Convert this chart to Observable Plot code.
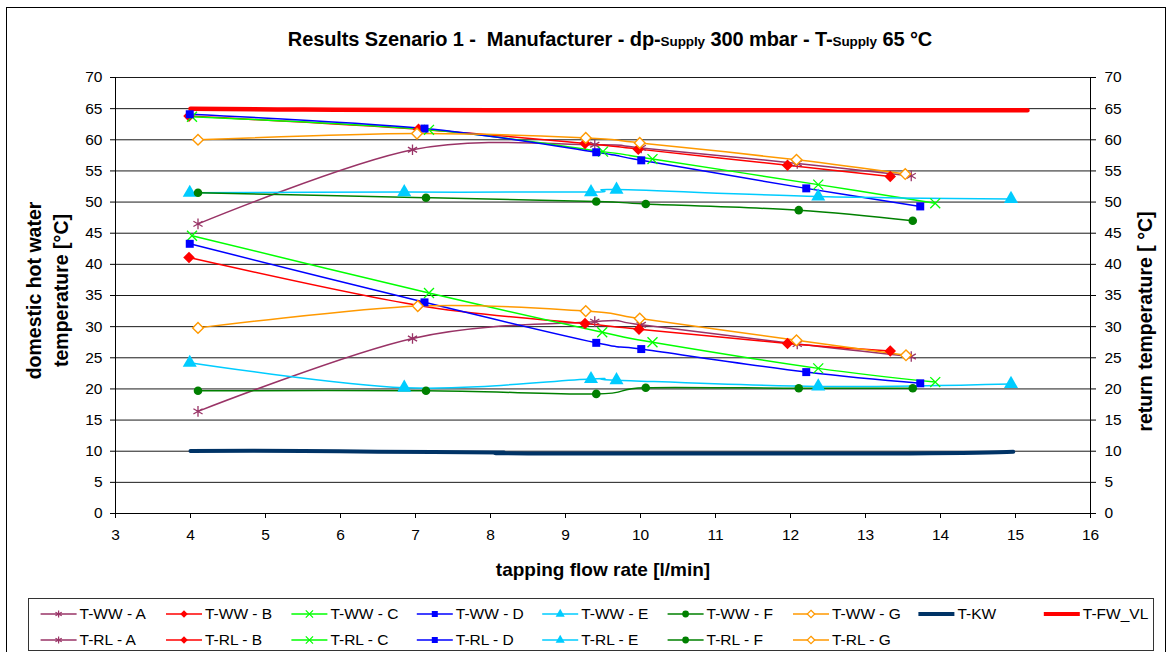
<!DOCTYPE html>
<html><head><meta charset="utf-8">
<script src="https://cdn.jsdelivr.net/npm/d3@7"></script>
<script src="https://cdn.jsdelivr.net/npm/@observablehq/plot@0.6"></script>
<style>
body{margin:0;background:#fff;font-family:"Liberation Sans",Arial,sans-serif;}
#wrap{position:relative;width:1168px;height:652px;overflow:hidden;background:#fff;}
#border{position:absolute;left:6px;top:7px;width:1158px;height:700px;border:1px solid #000;}
#chart{position:absolute;left:0;top:0;}
#title{position:absolute;left:0;top:28px;width:1220px;text-align:center;font-weight:bold;font-size:20px;color:#000;letter-spacing:-0.1px;}
#title .sub{font-size:13.5px;}
#legend{position:absolute;left:28px;top:598px;}
</style></head>
<body>
<div id="wrap">
<div id="border"></div>
<div id="chart"></div>
<div id="title">Results Szenario 1 -&nbsp; Manufacturer - dp-<span class="sub">Supply</span> 300 mbar - T-<span class="sub">Supply</span> 65 °C</div>
<div id="legend"></div>
</div>
<script>
// ---------- data ----------
const xTicks = [3,4,5,6,7,8,9,10,11,12,13,14,15,16];
const yTicks = [0,5,10,15,20,25,30,35,40,45,50,55,60,65,70];

const letters = ["A","B","C","D","E","F","G"];
const colors  = ["#993366","#FF0000","#00FF00","#0000FF","#00CCFF","#008000","#FF9900"];
const symbols = ["asterisk","diamond2","times","square","triangle","circle","diamond2"];

// T-WW (domestic hot water)
const wwA_x = [4.1, 6.96, 9.39, 10.01, 12.09, 13.61], wwA_y = [46.5, 58.4, 59.2, 58.7, 56.2, 54.2];
const wwB_x = [3.98, 7.04, 9.26, 9.97, 11.96, 13.33], wwB_y = [63.8, 61.7, 59.4, 58.5, 55.9, 54.1];
const wwC_x = [4.02, 7.18, 9.5, 10.16, 12.37, 13.93], wwC_y = [63.7, 61.6, 58.1, 56.9, 52.8, 49.8];
const wwD_x = [3.99, 7.12, 9.41, 10.01, 12.21, 13.73], wwD_y = [64.1, 61.8, 58.0, 56.7, 52.2, 49.3];
const wwE_x = [3.99, 6.85, 9.34, 9.68, 12.37, 14.94], wwE_y = [51.5, 51.6, 51.6, 52.0, 50.9, 50.5];
const wwF_x = [4.1, 7.14, 9.41, 10.07, 12.11, 13.63], wwF_y = [51.5, 50.7, 50.1, 49.7, 48.7, 47.0];
const wwG_x = [4.1, 7.02, 9.27, 9.99, 12.08, 13.53], wwG_y = [60.0, 61.0, 60.3, 59.5, 56.8, 54.5];

// T-RL (return)
const rlA_x = [4.1, 6.96, 9.39, 10.01, 12.09, 13.61], rlA_y = [16.4, 28.1, 30.8, 30.3, 27.2, 25.2];
const rlB_x = [3.98, 7.04, 9.26, 9.98, 11.96, 13.33], rlB_y = [41.1, 33.4, 30.5, 29.6, 27.3, 26.1];
const rlC_x = [4.02, 7.18, 9.49, 10.16, 12.37, 13.93], rlC_y = [44.6, 35.4, 29.1, 27.5, 23.3, 21.1];
const rlD_x = [3.99, 7.12, 9.41, 10.01, 12.21, 13.73], rlD_y = [43.3, 33.9, 27.4, 26.4, 22.7, 20.9];
const rlE_x = [3.99, 6.85, 9.34, 9.68, 12.37, 14.94], rlE_y = [24.2, 20.2, 21.6, 21.4, 20.4, 20.8];
const rlF_x = [4.1, 7.14, 9.41, 10.07, 12.11, 13.63], rlF_y = [19.7, 19.7, 19.2, 20.2, 20.1, 20.1];
const rlG_x = [4.1, 7.03, 9.27, 9.99, 12.08, 13.54], rlG_y = [29.8, 33.3, 32.5, 31.3, 27.8, 25.4];

// T-KW and T-FW_VL
const kw_x = [4.0, 5.5, 6.5, 8.1, 8.5, 13.6, 14.97], kw_y = [10.05, 10.05, 9.9, 9.8, 9.65, 9.65, 9.9];
const fw_x = [4.0, 5.5, 8.0, 15.16], fw_y = [65.0, 64.85, 64.75, 64.75];

const wwX = [wwA_x, wwB_x, wwC_x, wwD_x, wwE_x, wwF_x, wwG_x];
const wwY = [wwA_y, wwB_y, wwC_y, wwD_y, wwE_y, wwF_y, wwG_y];
const rlX = [rlA_x, rlB_x, rlC_x, rlD_x, rlE_x, rlF_x, rlG_x];
const rlY = [rlA_y, rlB_y, rlC_y, rlD_y, rlE_y, rlF_y, rlG_y];

const zip = (xs, ys) => xs.map((x, i) => ({x, y: ys[i]}));

const symR = {asterisk: 5, diamond2: 5.2, times: 4.6, square: 4.5, triangle: 5.2, circle: 4.3};
function dotOpts(i) {
  const s = symbols[i], c = colors[i];
  const base = {x: "x", y: "y", symbol: s, r: symR[s]};
  if (s === "asterisk" || s === "times") return {...base, fill: "none", stroke: c, strokeWidth: 1.3};
  if (i === 6) return {...base, fill: "#fff", stroke: c, strokeWidth: 1.4, r: 4.8};
  return {...base, fill: c, stroke: "none"};
}

const marks = [
  Plot.ruleY(yTicks.filter(v => v > 0), {stroke: "#1a1a1a", strokeWidth: 1}),
  Plot.ruleX([3, 16], {stroke: "#000"}),
  Plot.ruleY([0], {stroke: "#000"}),
  Plot.axisY({anchor: "left", ticks: yTicks, tickSize: 5, tickPadding: 8, label: null}),
  Plot.axisY({anchor: "right", ticks: yTicks, tickSize: 5, tickPadding: 9, label: null}),
  Plot.axisX({anchor: "bottom", ticks: xTicks, tickSize: 5, tickPadding: 10, label: null}),
  Plot.text(["domestic hot water\ntemperature [°C]"], {frameAnchor: "left", dx: -70, dy: -5, rotate: -90, fontSize: 19.5, fontWeight: "bold", lineHeight: 1.38, textAnchor: "middle", lineAnchor: "middle"}),
  Plot.text(["return temperature [ °C]"], {frameAnchor: "right", dx: 55, dy: 26, rotate: -90, fontSize: 19.5, fontWeight: "bold", textAnchor: "middle", lineAnchor: "middle"}),
  Plot.text(["tapping flow rate [l/min]"], {frameAnchor: "bottom", dy: 56, fontSize: 19, fontWeight: "bold", textAnchor: "middle", lineAnchor: "middle"}),
  Plot.line(zip(kw_x, kw_y), {x: "x", y: "y", stroke: "#003366", strokeWidth: 4, curve: "cardinal"}),
];
for (let i = 0; i < 7; i++) {
  marks.push(Plot.line(zip(wwX[i], wwY[i]), {x: "x", y: "y", stroke: colors[i], strokeWidth: 1.5, curve: "cardinal"}));
  marks.push(Plot.line(zip(rlX[i], rlY[i]), {x: "x", y: "y", stroke: colors[i], strokeWidth: 1.5, curve: "cardinal"}));
}
marks.push(Plot.line(zip(fw_x, fw_y), {x: "x", y: "y", stroke: "#FF0000", strokeWidth: 4.5, curve: "cardinal"}));
for (let i = 0; i < 7; i++) {
  marks.push(Plot.dot(zip(wwX[i], wwY[i]), dotOpts(i)));
  marks.push(Plot.dot(zip(rlX[i], rlY[i]), dotOpts(i)));
}

const chart = Plot.plot({
  width: 1168, height: 590,
  marginLeft: 115, marginRight: 78, marginTop: 77, marginBottom: 77,
  x: {domain: [3, 16]},
  y: {domain: [0, 70]},
  style: {fontFamily: "'Liberation Sans', Arial, sans-serif", fontSize: "15.5px", color: "#000", background: "transparent", overflow: "visible"},
  marks
});
document.getElementById("chart").appendChild(chart);

// ---------- legend ----------
const symMap = {asterisk: d3.symbolAsterisk, diamond2: d3.symbolDiamond2, times: d3.symbolTimes, square: d3.symbolSquare, triangle: d3.symbolTriangle, circle: d3.symbolCircle};
const lw = 1126, lh = 53;
const lsvg = d3.select("#legend").append("svg").attr("width", lw).attr("height", lh)
  .style("font-family", "'Liberation Sans', Arial, sans-serif").style("font-size", "15.5px");
lsvg.append("rect").attr("x", 0.5).attr("y", 0.5).attr("width", lw - 1).attr("height", lh - 1).attr("fill", "#fff").attr("stroke", "#333");
const items = [];
letters.forEach((L, i) => items.push({label: "T-WW - " + L, row: 0, col: i, idx: i}));
items.push({label: "T-KW", row: 0, col: 7, thick: "#003366"});
items.push({label: "T-FW_VL", row: 0, col: 8, thick: "#FF0000"});
letters.forEach((L, i) => items.push({label: "T-RL - " + L, row: 1, col: i, idx: i}));
items.forEach(it => {
  const x0 = 12.6 + it.col * 125.4, y0 = it.row === 0 ? 16 : 42;
  const g = lsvg.append("g");
  if (it.thick) {
    g.append("line").attr("x1", x0).attr("x2", x0 + 36).attr("y1", y0).attr("y2", y0).attr("stroke", it.thick).attr("stroke-width", 4);
  } else {
    const c = colors[it.idx], s = symbols[it.idx];
    g.append("line").attr("x1", x0).attr("x2", x0 + 36).attr("y1", y0).attr("y2", y0).attr("stroke", c).attr("stroke-width", 1.5);
    const p = g.append("path").attr("d", d3.symbol(symMap[s], 36)()).attr("transform", `translate(${x0 + 18},${y0})`);
    if (s === "asterisk" || s === "times") p.attr("fill", "none").attr("stroke", c).attr("stroke-width", 1.2);
    else if (it.idx === 6) p.attr("fill", "#fff").attr("stroke", c).attr("stroke-width", 1.2);
    else p.attr("fill", c);
  }
  g.append("text").attr("x", x0 + 39).attr("y", y0).attr("dy", "0.35em").text(it.label);
});
</script>
</body></html>
